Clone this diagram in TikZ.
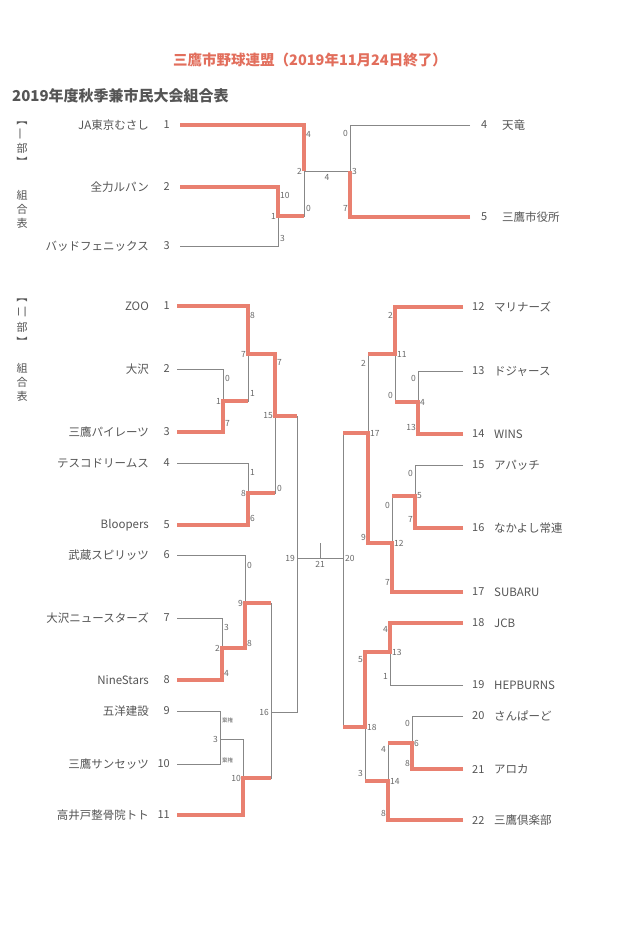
\documentclass[tikz,border=0pt]{standalone}
\usepackage{fontspec}
\setmainfont{Noto Sans CJK JP}
\usetikzlibrary{positioning}
\definecolor{winred}{RGB}{233,128,112}
\definecolor{titlered}{RGB}{226,110,92}
\definecolor{linegray}{RGB}{135,135,135}
\definecolor{textgray}{RGB}{85,85,85}
\definecolor{numgray}{RGB}{105,105,105}
\tikzset{lose/.style={draw=linegray, line width=1pt},
  win/.style={draw=winred, line width=3.3pt, line join=miter},
  tname/.style={font=\fontsize{11.5}{12}\selectfont, text=textgray, inner sep=0pt},
  tnum/.style={font=\fontsize{11}{12}\selectfont, text=textgray, inner sep=0pt},
  score/.style={font=\fontsize{8.5}{9}\selectfont, text=numgray, inner sep=1pt},
  forfeit/.style={font=\fontsize{5.5}{6}\selectfont, text=numgray, inner sep=1pt},
  sect/.style={font=\fontsize{11}{12}\selectfont, text=textgray, inner sep=0pt}}

\begin{document}
\begin{tikzpicture}[x=1pt, y=-1pt]
    \useasboundingbox[fill=white] (0,0) rectangle (639,927);
    \node[font=\bfseries\fontsize{14.5}{15}\selectfont, text=titlered] (ttl) at (310,60) {三鷹市野球連盟（2019年11月24日終了）};
    \node[font=\bfseries\fontsize{15}{16}\selectfont, text=textgray, anchor=west, inner sep=0pt] (sub) at (12,96) {2019年度秋季兼市民大会組合表};
    % section labels
    \foreach \ch/\yy/\rot [count=\i] in {【/120/-90, 一/134/90, 部/148/0, 】/162/-90, 組/195/0, 合/209/0, 表/223/0}
        \node[sect, rotate=\rot] (sa\i) at (22,\yy) {\ch};
    \foreach \ch/\yy/\rot [count=\i] in {【/297/-90, 二/312/90, 部/327/0, 】/342/-90, 組/368/0, 合/382/0, 表/396/0}
        \node[sect, rotate=\rot] (sb\i) at (22,\yy) {\ch};

    % first division
    \foreach \nm/\yy [count=\i] in {JA東京むさし/125, 全力ルパン/187, バッドフェニックス/246} {
        \node[tname, anchor=east] (jn\i) at (149,\yy) {\nm};
        \node[tnum, anchor=east] (jk\i) at (170,\yy) {\i};
        \coordinate (j\i) at (180,\yy);
    }
    \foreach \nm/\yy [count=\i from 4] in {天竜/125, 三鷹市役所/217} {
        \node[tnum, anchor=west] (jk\i) at (481,\yy) {\i};
        \node[tname, anchor=west] (jn\i) at (502,\yy) {\nm};
        \coordinate (j\i) at (470,\yy);
    }
    \coordinate (jm1) at (278,216);
    \coordinate (jm2) at (304,171);
    \coordinate (jm3) at (350,171);
    \draw[lose] (j1) -| (jm2);
    \draw[lose] (j2) -| (jm1);
    \draw[lose] (j3) -| (jm1);
    \draw[lose] (jm1) -| (jm2);
    \draw[lose] (jm2) -- (jm3);
    \draw[lose] (j4) -| (jm3);
    \draw[lose] (j5) -| (jm3);
    \draw[win] (j1) -| (jm2);
    \draw[win] (j2) -| (jm1) -- (jm1 -| jm2);
    \draw[win] (j5) -| (jm3);
    \foreach \xx/\yy/\side/\txt [count=\i] in {305/134/west/4, 303/171/east/2, 279/195/west/10,
        277/216/east/1, 305/208/west/0, 279/238/west/3, 349/133/east/0, 351/171/west/3, 349/208/east/7}
        \node[score, anchor=\side] (js\i) at (\xx,\yy) {\txt};
    \node[score, anchor=north] (js10) at (327,173) {4};

    % second division, left half
    \foreach \nm/\yy [count=\i] in {ZOO/306, 大沢/369, 三鷹パイレーツ/432, テスコドリームス/463, Bloopers/525,
        武蔵スピリッツ/555, 大沢ニュースターズ/618, NineStars/680, 五洋建設/711, 三鷹サンセッツ/764, 高井戸整骨院トト/815} {
        \node[tname, anchor=east] (n\i) at (149,\yy) {\nm};
        \node[tnum, anchor=east] (k\i) at (170,\yy) {\i};
        \coordinate (t\i) at (177,\yy);
    }
    % second division, right half
    \foreach \nm/\yy [count=\i from 12] in {マリナーズ/307, ドジャース/371, WINS/434, アパッチ/465, なかよし常連/528,
        SUBARU/592, JCB/623, HEPBURNS/685, さんぱーど/716, アロカ/769, 三鷹倶楽部/820} {
        \node[tnum, anchor=west] (k\i) at (472,\yy) {\i};
        \node[tname, anchor=west] (n\i) at (494,\yy) {\nm};
        \coordinate (t\i) at (463,\yy);
    }
    \foreach \xx/\yy [count=\i] in {223/401, 222/648, 220/739, 418/402, 415/496, 412/743, 248/354, 248/493,
        245/603, 243/778, 395/354, 392/543, 390/652, 388/781, 275/416, 271/712, 368/433, 365/727, 297/558, 343/558, 320/558}
        \coordinate (m\i) at (\xx,\yy);

    \draw[lose] (t1) -| (m7);
    \draw[lose] (t2) -| (m1);
    \draw[lose] (t3) -| (m1);
    \draw[lose] (m1) -| (m7);
    \draw[lose] (t4) -| (m8);
    \draw[lose] (t5) -| (m8);
    \draw[lose] (m7) -| (m15);
    \draw[lose] (m8) -| (m15);
    \draw[lose] (t6) -| (m9);
    \draw[lose] (t7) -| (m2);
    \draw[lose] (t8) -| (m2);
    \draw[lose] (m2) -| (m9);
    \draw[lose] (t9) -| (m3);
    \draw[lose] (t10) -| (m3);
    \draw[lose] (m3) -| (m10);
    \draw[lose] (t11) -| (m10);
    \draw[lose] (m9) -| (m16);
    \draw[lose] (m10) -| (m16);
    \draw[lose] (m15) -| (m19);
    \draw[lose] (m16) -| (m19);
    \draw[lose] (t12) -| (m11);
    \draw[lose] (t13) -| (m4);
    \draw[lose] (t14) -| (m4);
    \draw[lose] (m4) -| (m11);
    \draw[lose] (t15) -| (m5);
    \draw[lose] (t16) -| (m5);
    \draw[lose] (m5) -| (m12);
    \draw[lose] (t17) -| (m12);
    \draw[lose] (m11) -| (m17);
    \draw[lose] (m12) -| (m17);
    \draw[lose] (t18) -| (m13);
    \draw[lose] (t19) -| (m13);
    \draw[lose] (t20) -| (m6);
    \draw[lose] (t21) -| (m6);
    \draw[lose] (m6) -| (m14);
    \draw[lose] (t22) -| (m14);
    \draw[lose] (m13) -| (m18);
    \draw[lose] (m14) -| (m18);
    \draw[lose] (m17) -| (m20);
    \draw[lose] (m18) -| (m20);
    \draw[lose] (m19) -- (m20);
    \draw[lose] (m21) -- ++(0,-15);

    % winners
    \draw[win] (t1) -| (m7) -| (m15) -- (m15 -| m19);
    \draw[win] (t3) -| (m1) -- (m1 -| m7);
    \draw[win] (t5) -| (m8) -- (m8 -| m15);
    \draw[win] (t8) -| (m2) -| (m9) -- (m9 -| m16);
    \draw[win] (t11) -| (m10) -- (m10 -| m16);
    \draw[win] (t12) -| (m11) -- (m11 -| m17);
    \draw[win] (t14) -| (m4) -- (m4 -| m11);
    \draw[win] (t16) -| (m5) -- (m5 -| m12);
    \draw[win] (t17) -| (m12) -| (m17) -- (m17 -| m20);
    \draw[win] (t18) -| (m13) -| (m18) -- (m18 -| m20);
    \draw[win] (t21) -| (m6) -- (m6 -| m14);
    \draw[win] (t22) -| (m14) -- (m14 -| m18);

    % scores and match numbers
    \foreach \xx/\yy/\side/\txt [count=\i] in {249/315/west/8, 247/354/east/7, 224/378/west/0, 222/401/east/1,
        224/423/west/7, 249/393/west/1, 276/362/west/7, 274/416/east/15, 249/472/west/1, 247/493/east/8,
        249/518/west/6, 276/488/west/0, 246/565/west/0, 244/603/east/9, 223/627/west/3, 221/648/east/2,
        223/673/west/4, 246/643/west/8, 219/739/east/3, 242/778/east/10, 270/712/east/16, 296/558/east/19,
        344/558/west/20, 394/315/east/2, 396/354/west/11, 417/378/east/0, 419/402/west/4, 417/427/east/13,
        394/395/east/0, 367/363/east/2, 369/433/west/17, 414/473/east/0, 416/496/west/5, 414/519/east/7,
        391/505/east/0, 393/543/west/12, 391/582/east/7, 367/537/east/9, 389/629/east/4, 391/652/west/13,
        389/676/east/1, 364/660/east/5, 366/727/west/18, 411/723/east/0, 413/743/west/6, 411/763/east/8,
        387/749/east/4, 389/781/west/14, 387/813/east/8, 364/773/east/3}
        \node[score, anchor=\side] (s\i) at (\xx,\yy) {\txt};
    \node[score, anchor=north] (s51) at (320,560) {21};
    \node[forfeit, anchor=west] (f1) at (221,720) {棄権};
    \node[forfeit, anchor=west] (f2) at (221,760) {棄権};
\end{tikzpicture}
\end{document}
